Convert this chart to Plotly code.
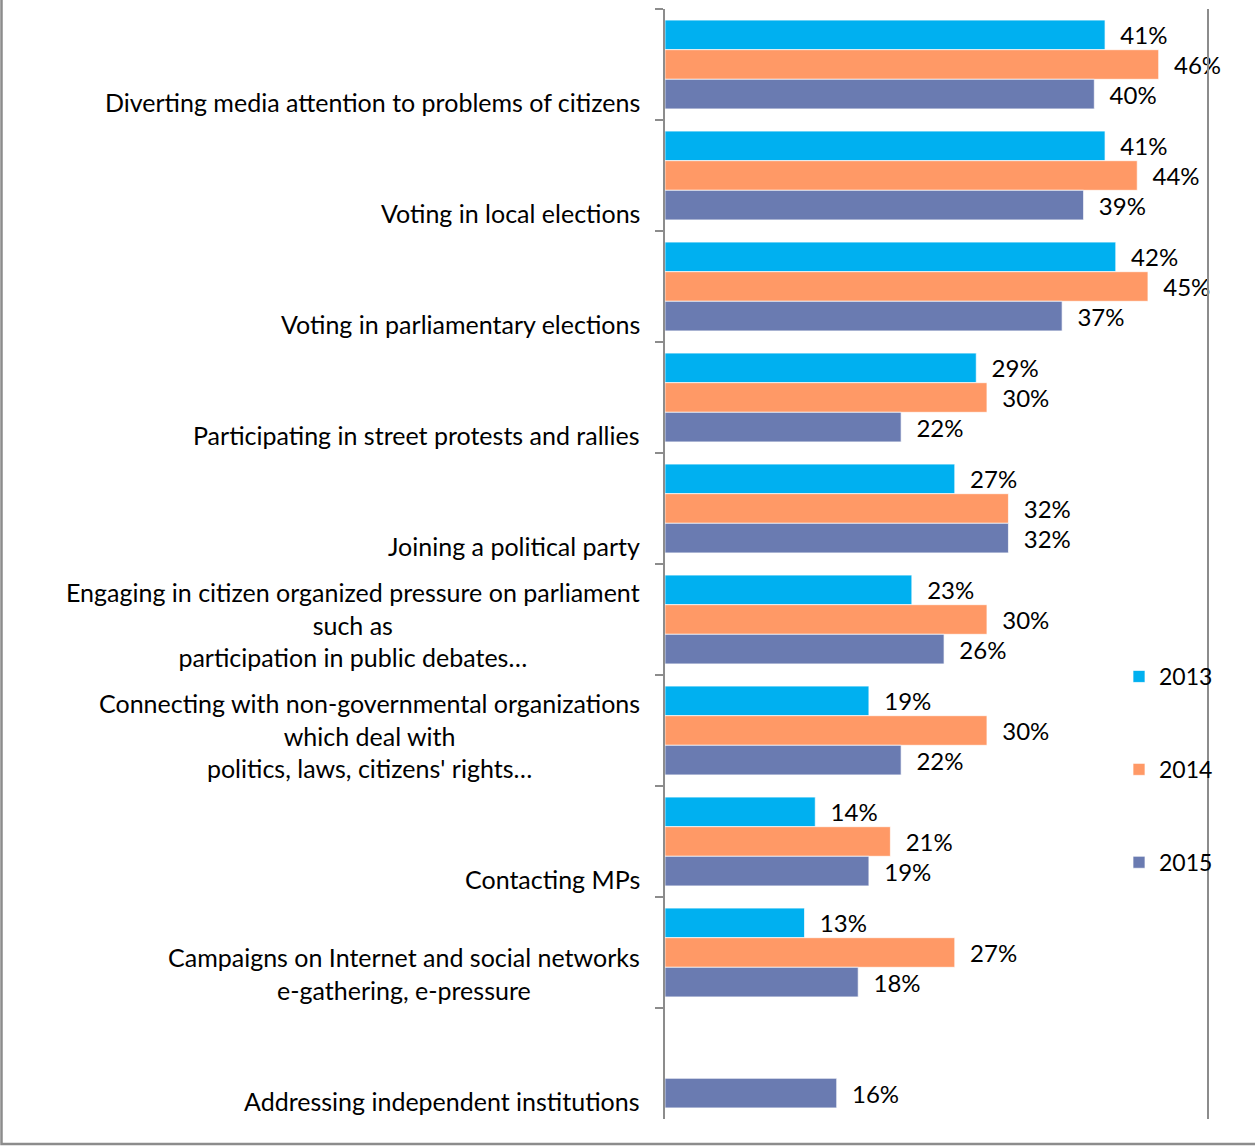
import plotly.graph_objects as go

# ---- data ----
categories = [
    "Diverting media attention to problems of citizens",
    "Voting in local elections",
    "Voting in parliamentary elections",
    "Participating in street protests and rallies",
    "Joining a political party",
    "Engaging in citizen organized pressure on parliament\nsuch as\nparticipation in public debates…",
    "Connecting with non-governmental organizations\nwhich deal with\npolitics, laws, citizens' rights…",
    "Contacting MPs",
    "Campaigns on Internet and social networks\ne-gathering, e-pressure",
    "Addressing independent institutions",
]
years = ["2013", "2014", "2015"]
v2013 = [41, 41, 42, 29, 27, 23, 19, 14, 13, None]
v2014 = [46, 44, 45, 30, 32, 30, 30, 21, 27, None]
v2015 = [40, 39, 37, 22, 32, 26, 22, 19, 18, 16]
series = [v2013, v2014, v2015]
colors = ["#00B0F0", "#FF9966", "#6A7BB1"]

# ---- layout constants ----
W, H = 1255, 1146
ML, MR, MT, MB = 665, 48, 9, 27
FONT = "Lato"
LABEL_SIZE = 25
VALUE_SIZE = 24
LEGEND_SIZE = 23
GRAY = "#8C8C8C"

fig = go.Figure()
for name, vals, col in zip(years, series, colors):
    fig.add_trace(go.Bar(
        y=categories, x=vals, orientation="h", name=name,
        legendgroup=name,
        marker=dict(color=col, line=dict(color="rgba(255,255,255,0.7)", width=1)),
        texttemplate="\u00a0\u00a0%{x}%", textposition="outside",
        textfont=dict(family=FONT, size=VALUE_SIZE, color="black"),
        cliponaxis=False, constraintext="none", hoverinfo="skip",
    ))

# category labels: last line sits ~37.5px below the band centre
annotations = []
line_h = 1.3 * LABEL_SIZE
for cat in categories:
    lines = cat.split("\n")
    n = len(lines)
    annotations.append(dict(
        xref="x", yref="y", x=0, y=cat,
        text="<br>".join(lines), showarrow=False,
        xanchor="right", yanchor="middle", align="center",
        xshift=-23, yshift=-(37.5 - (n - 1) * line_h / 2),
        font=dict(family=FONT, size=LABEL_SIZE, color="black"),
    ))

pw = W - ML - MR
ph = H - MT - MB
def px_x(p):
    return (p - ML) / pw
def px_y(p):
    return (H - MB - p) / ph

fig.update_layout(
    width=W, height=H,
    margin=dict(l=ML, r=MR, t=MT, b=MB, pad=0),
    plot_bgcolor="white", paper_bgcolor="white",
    barmode="group", bargap=0.2, bargroupgap=0,
    font=dict(family=FONT, size=LABEL_SIZE, color="black"),
    xaxis=dict(range=[0, 50.5], visible=False, showgrid=False, zeroline=False),
    yaxis=dict(
        type="category", autorange="reversed",
        showticklabels=False, showgrid=False, zeroline=False,
        showline=True, linecolor=GRAY, linewidth=2, mirror=True,
        ticks="outside", tickson="boundaries", ticklen=8, tickwidth=2, tickcolor=GRAY,
    ),
    legend=dict(
        x=px_x(1119), y=px_y(655), xanchor="left", yanchor="top",
        traceorder="grouped", tracegroupgap=60,
        font=dict(family=FONT, size=LEGEND_SIZE, color="black"),
        bgcolor="rgba(0,0,0,0)",
    ),
    annotations=annotations,
    shapes=[dict(
        type="rect", xref="paper", yref="paper",
        x0=px_x(1.5), x1=px_x(W + 10), y0=px_y(1144), y1=px_y(-10),
        line=dict(color=GRAY, width=2.5), fillcolor="rgba(0,0,0,0)", layer="above",
    )],
)

fig.write_html(
    "out.html",
    config={"displayModeBar": False},
    post_script="document.body.style.margin='0';document.body.style.padding='0';",
)
